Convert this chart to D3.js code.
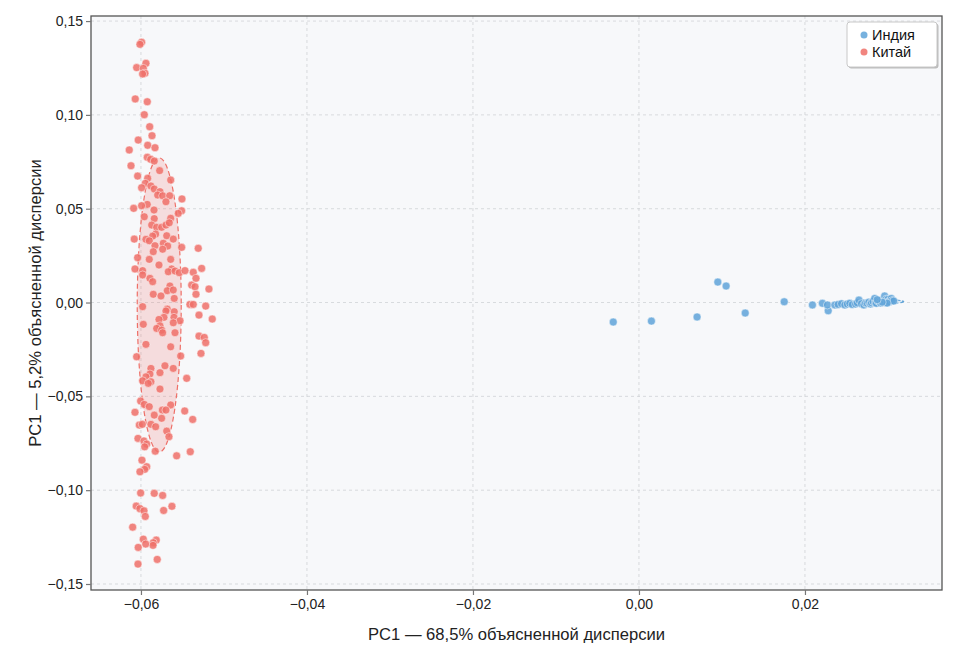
<!DOCTYPE html>
<html><head><meta charset="utf-8">
<script src="https://cdn.jsdelivr.net/npm/d3@7"></script>
<style>
body{margin:0;background:#fff;font-family:"Liberation Sans",Arial,sans-serif;}
</style></head>
<body><svg id="c" width="967" height="647"></svg>
<script>
const seriesNames = ["Индия","Китай"];
const seriesColors = ["#5fa3d8","#ee7068"];
const xTicks = [-0.06,-0.04,-0.02,0.00,0.02];
const yTicks = [-0.15,-0.10,-0.05,0.00,0.05,0.10,0.15];
const xTitle = "PC1 — 68,5% объясненной дисперсии";
const yTitle = "PC1 — 5,2% объясненной дисперсии";

const chinaX = [-0.05992,-0.06012,-0.0594,-0.06052,-0.05972,-0.05952,-0.0598,-0.06069,-0.05924,-0.0596,
-0.05895,-0.05867,-0.06033,-0.05919,-0.05831,-0.06141,-0.05924,-0.05883,-0.0584,-0.0612,
-0.05775,-0.0604,-0.05919,-0.05642,-0.05948,-0.0588,-0.05992,-0.0584,-0.05771,-0.05799,
-0.05739,-0.05654,-0.05699,-0.05506,-0.05924,-0.05992,-0.06088,-0.05843,-0.0551,-0.05551,
-0.0596,-0.0584,-0.05642,-0.05871,-0.05811,-0.05751,-0.05699,-0.05659,-0.05823,-0.05859,
-0.0569,-0.06081,-0.0594,-0.059,-0.05611,-0.05831,-0.05731,-0.05678,-0.05739,-0.05852,
-0.0551,-0.0531,-0.0604,-0.05642,-0.059,-0.05783,-0.06072,-0.0598,-0.0598,-0.0563,
-0.05671,-0.0559,-0.05539,-0.0547,-0.0537,-0.05269,-0.05892,-0.05859,-0.05337,-0.05389,
-0.05349,-0.05651,-0.05683,-0.05611,-0.05181,-0.05337,-0.05852,-0.05759,-0.05599,-0.0541,
-0.0537,-0.0522,-0.0598,-0.05683,-0.05699,-0.05599,-0.05723,-0.05602,-0.05301,-0.05783,
-0.05141,-0.0553,-0.05611,-0.05972,-0.05771,-0.05811,-0.05751,-0.05739,-0.0559,-0.05301,
-0.05237,-0.0522,-0.0594,-0.05642,-0.05277,-0.06052,-0.05522,-0.0588,-0.05711,-0.05611,
-0.05771,-0.05892,-0.0594,-0.05449,-0.0598,-0.0588,-0.05912,-0.05771,-0.06004,-0.0596,
-0.059,-0.05642,-0.06072,-0.05743,-0.05699,-0.05473,-0.0584,-0.05751,-0.05377,-0.0602,
-0.05984,-0.0588,-0.05823,-0.0569,-0.05663,-0.06036,-0.05964,-0.05931,-0.05955,-0.05828,
-0.0557,-0.05406,-0.05988,-0.05931,-0.05955,-0.06012,-0.06004,-0.0584,-0.05739,-0.06057,
-0.06012,-0.05964,-0.05948,-0.05627,-0.05727,-0.061,-0.05972,-0.05816,-0.05852,-0.05855,
-0.05943,-0.06033,-0.05804,-0.06036];
const chinaY = [0.1387,0.1376,0.1275,0.1252,0.1248,0.1222,0.1218,0.1085,0.1070,0.1001,
0.0937,0.0889,0.0866,0.0838,0.0825,0.0813,0.0774,0.0763,0.0754,0.0729,
0.0703,0.0674,0.0662,0.0653,0.0635,0.0621,0.0612,0.0605,0.0591,0.0573,
0.0569,0.0569,0.0537,0.0552,0.0523,0.0516,0.0502,0.0493,0.0489,0.0475,
0.0457,0.0447,0.0449,0.0413,0.0401,0.0401,0.0413,0.0425,0.0365,0.0354,
0.0356,0.0338,0.0337,0.0329,0.0338,0.0303,0.0316,0.0301,0.0284,0.0271,
0.0294,0.0289,0.0239,0.0230,0.0230,0.0200,0.0179,0.0170,0.0147,0.0179,
0.0164,0.0168,0.0159,0.0170,0.0161,0.0182,0.0129,0.0111,0.0129,0.0093,
0.0084,0.0088,0.0063,0.0067,0.0072,0.0044,0.0044,0.0035,0.0022,-0.0010,
-0.0010,-0.0019,-0.0022,-0.0035,-0.0045,-0.0049,-0.0079,-0.0079,-0.0067,-0.0090,
-0.0088,-0.0097,-0.0108,-0.0116,-0.0124,-0.0138,-0.0147,-0.0161,-0.0161,-0.0179,
-0.0186,-0.0214,-0.0223,-0.0236,-0.0271,-0.0289,-0.0285,-0.0351,-0.0337,-0.0351,
-0.0374,-0.0381,-0.0396,-0.0404,-0.0417,-0.0422,-0.0431,-0.0461,-0.0525,-0.0543,
-0.0555,-0.0546,-0.0585,-0.0573,-0.0573,-0.0578,-0.0600,-0.0617,-0.0623,-0.0653,
-0.0649,-0.0649,-0.0662,-0.0685,-0.0715,-0.0724,-0.0738,-0.0754,-0.0769,-0.0792,
-0.0817,-0.0795,-0.0840,-0.0875,-0.0889,-0.0902,-0.1015,-0.1017,-0.1028,-0.1085,
-0.1099,-0.1110,-0.1140,-0.1086,-0.1108,-0.1197,-0.1261,-0.1266,-0.1280,-0.1294,
-0.1287,-0.1305,-0.1369,-0.1394];

const indiaX = [-0.0031,0.0015,0.0070,0.0095,0.0105,0.0128,0.0175,
0.0209,0.0221,0.0228,0.0227,0.0236,0.0240,0.0244,0.0248,0.0251,0.0254,0.0257,0.0261,0.0263,0.0265,
0.0268,0.0271,0.0273,0.0275,0.0277,0.0279,0.0280,0.0282,0.0284,0.0285,0.0286,0.0288,0.0290,0.0291,
0.0293,0.0295,0.0296,0.0297,0.0298,0.0300,0.0301,0.0302,0.0304,0.0305,0.0307,0.0299,0.0293,0.0287];
const indiaY = [-0.0104,-0.0099,-0.0077,0.0109,0.0088,-0.0056,0.0004,
-0.0013,-0.0004,-0.0044,-0.0013,-0.0013,-0.0010,-0.0006,-0.0013,-0.0008,-0.0004,-0.0011,-0.0008,-0.0002,0.0013,
-0.0006,-0.0013,-0.0003,-0.0004,0.0002,-0.0008,-0.0001,0.0006,0.0022,-0.0003,-0.0004,0.0008,0.0004,-0.0002,
0.0012,0.0004,0.0035,0.0000,0.0018,0.0017,0.0006,0.0004,0.0022,0.0010,0.0008,-0.0003,0.0002,0.0015];

// confidence ellipses: [cx, cy, rx, ry]
const chinaEllipse = [-0.0578, -0.0013, 0.00265, 0.0784];
const indiaEllipse = [0.0288, 0.0005, 0.0031, 0.0012];

const svg = d3.select("#c");
const L=91, R=942, T=16, B=590;
const x = d3.scaleLinear().domain([-0.06602, 0.03651]).range([L, R]);
const y = d3.scaleLinear().domain([-0.1532, 0.1527]).range([B, T]);
const loc = d3.formatLocale({decimal:",", thousands:" ", grouping:[3], currency:["",""], minus:"−"});
const fmt = loc.format(".2f");

svg.append("rect").attr("x",L).attr("y",T).attr("width",R-L).attr("height",B-T).attr("fill","#f7f8fa");

// grid
const g = svg.append("g");
g.selectAll("line.gx").data(xTicks).join("line")
  .attr("x1",d=>x(d)).attr("x2",d=>x(d)).attr("y1",T).attr("y2",B)
  .attr("stroke","#cfd2d6").attr("stroke-width",0.8).attr("stroke-dasharray","3,3");
g.selectAll("line.gy").data(yTicks).join("line")
  .attr("y1",d=>y(d)).attr("y2",d=>y(d)).attr("x1",L).attr("x2",R)
  .attr("stroke","#cfd2d6").attr("stroke-width",0.8).attr("stroke-dasharray","3,3");

// ellipses
function ell(e, color, op, dash){
  svg.append("ellipse")
    .attr("cx",x(e[0])).attr("cy",y(e[1]))
    .attr("rx",x(e[0]+e[2])-x(e[0])).attr("ry",y(e[1])-y(e[1]+e[3]))
    .attr("fill",color).attr("fill-opacity",op)
    .attr("stroke",color).attr("stroke-width",1.2).attr("stroke-dasharray",dash);
}
ell(chinaEllipse, seriesColors[1], 0.2, "5,3");

// points
const china = chinaX.map((v,i)=>({x:v,y:chinaY[i]}));
const india = indiaX.map((v,i)=>({x:v,y:indiaY[i]}));
svg.append("g").selectAll("circle").data(china).join("circle")
  .attr("cx",d=>x(d.x)).attr("cy",d=>y(d.y)).attr("r",4)
  .attr("fill",seriesColors[1]).attr("fill-opacity",0.85)
  .attr("stroke","#fff").attr("stroke-width",0.6).attr("stroke-opacity",0.8);
ell(indiaEllipse, seriesColors[0], 0.2, "4,2");
svg.append("g").selectAll("circle").data(india).join("circle")
  .attr("cx",d=>x(d.x)).attr("cy",d=>y(d.y)).attr("r",4)
  .attr("fill",seriesColors[0]).attr("fill-opacity",0.85)
  .attr("stroke","#fff").attr("stroke-width",0.6).attr("stroke-opacity",0.8);

// frame
svg.append("rect").attr("x",L).attr("y",T).attr("width",R-L).attr("height",B-T)
  .attr("fill","none").attr("stroke","#555").attr("stroke-width",1.3);

// axes
const xa = svg.append("g").attr("transform",`translate(0,${B})`)
  .call(d3.axisBottom(x).tickValues(xTicks).tickFormat(fmt).tickSize(5).tickPadding(4));
const ya = svg.append("g").attr("transform",`translate(${L},0)`)
  .call(d3.axisLeft(y).tickValues(yTicks).tickFormat(fmt).tickSize(5).tickPadding(3));
[xa,ya].forEach(a=>{
  a.select(".domain").remove();
  a.selectAll(".tick line").attr("stroke","#777").attr("stroke-width",1.2);
  a.selectAll(".tick text").attr("fill","#222").style("font-size","14px")
   .style("font-family","'Liberation Sans',Arial,sans-serif");
});

// titles
svg.append("text").attr("x",(L+R)/2).attr("y",640).attr("text-anchor","middle")
  .style("font-size","16.6px").attr("fill","#222").text(xTitle);
svg.append("text").attr("transform",`translate(41,${(T+B)/2}) rotate(-90)`).attr("text-anchor","middle")
  .style("font-size","16.6px").attr("fill","#222").text(yTitle);

// legend
const lg = svg.append("g").attr("transform","translate(847,22)");
lg.append("rect").attr("x",1.5).attr("y",1.5).attr("width",90).attr("height",45).attr("rx",3)
  .attr("fill","#bbb");
lg.append("rect").attr("width",90).attr("height",45).attr("rx",3)
  .attr("fill","#fff").attr("stroke","#c8c8c8").attr("stroke-width",1);
seriesNames.forEach((n,i)=>{
  lg.append("circle").attr("cx",17).attr("cy",13+i*17).attr("r",3.5).attr("fill",seriesColors[i]).attr("fill-opacity",0.85);
  lg.append("text").attr("x",25).attr("y",18+i*17).style("font-size","14.5px").attr("fill","#111").text(n);
});
</script></body></html>
